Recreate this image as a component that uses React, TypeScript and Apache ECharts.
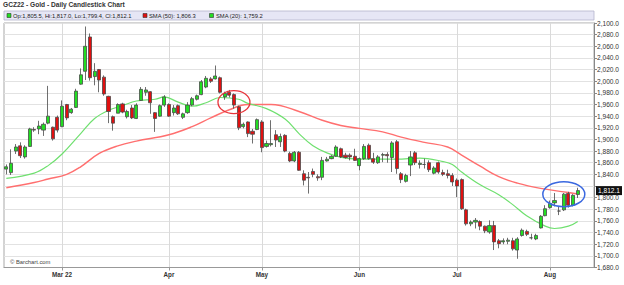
import React, { useEffect, useRef } from 'react';
import * as echarts from 'echarts';

const chartTitle = 'GCZ22 - Gold - Daily Candlestick Chart';
const monthLabels = ['', 'Mar 22', 'Apr', 'May', 'Jun', 'Jul', 'Aug'];
const tradingDaysShown = [12, 23, 20, 21, 21, 20, 7];
const emptySlotsAfter = 3;

const opens = [
  1849, 1843, 1880, 1889, 1870, 1888, 1917, 1918, 1916, 1928, 1921, 1938, 1922, 1960, 1946, 1955, 1995, 2017, 2076, 2008,
  2020, 2007, 1974, 1939, 1945, 1961, 1939, 1954, 1936, 1967, 1981, 1982, 1946, 1940, 1959, 1960, 1946, 1958, 1938, 1946,
  1959, 1969, 1977, 1990, 2004, 2004, 2006, 1973, 1981, 1977, 1956, 1922, 1930, 1914, 1917, 1930, 1888, 1891, 1908, 1896,
  1907, 1876, 1863, 1878, 1841, 1835, 1845, 1836, 1835, 1863, 1867, 1871, 1884, 1873, 1873, 1871, 1855, 1867, 1890, 1867,
  1860, 1873, 1874, 1869, 1896, 1841, 1828, 1856, 1877, 1857, 1857, 1860, 1842, 1860, 1843, 1841, 1838, 1830, 1831, 1779,
  1755, 1758, 1759, 1751, 1741, 1752, 1726, 1724, 1725, 1726, 1710, 1735, 1742, 1731, 1729, 1748, 1769, 1783, 1791, 1777,
  1779, 1807, 1787, 1805.5,
];
const closes = [
  1853, 1859, 1887, 1872, 1887, 1918, 1916, 1923, 1926, 1940, 1901, 1916, 1957, 1937, 1952, 1983, 2011, 2060, 2006, 2017,
  2002, 1978, 1948, 1928, 1960, 1947, 1948, 1937, 1959, 1986, 1985, 1963, 1936, 1958, 1973, 1940, 1954, 1944, 1944, 1959,
  1970, 1975, 1999, 2005, 2000, 2009, 1981, 1979, 1976, 1959, 1920, 1926, 1910, 1909, 1934, 1886, 1893, 1893, 1899, 1905,
  1880, 1863, 1878, 1847, 1830, 1834, 1840, 1834, 1864, 1866, 1871, 1887, 1870, 1869, 1870, 1864, 1867, 1888, 1867, 1861,
  1870, 1874, 1872, 1894, 1850, 1831, 1838, 1870, 1860, 1859, 1857, 1848, 1851, 1844, 1840, 1838, 1827, 1820, 1781, 1755,
  1758, 1761, 1751, 1743, 1752, 1724, 1721, 1726, 1727, 1712, 1729, 1744, 1737, 1731, 1735, 1768, 1781, 1790, 1795, 1777,
  1806, 1787, 1804, 1812.1,
];
const lows = [
  1840, 1839, 1875, 1868, 1867, 1887, 1913, 1909, 1906, 1926, 1898, 1912, 1921, 1933, 1944, 1954, 1994, 2002, 2001, 1993,
  1981, 1975, 1928, 1915, 1945, 1945, 1936, 1935, 1935, 1966, 1975, 1944, 1913, 1939, 1956, 1939, 1941, 1942, 1935, 1944,
  1957, 1967, 1976, 1988, 1997, 2003, 1979, 1968, 1972, 1953, 1916, 1919, 1904, 1893, 1916, 1878, 1886, 1888, 1887, 1887,
  1878, 1861, 1861, 1846, 1821, 1807, 1835, 1829, 1830, 1862, 1866, 1870, 1868, 1867, 1864, 1863, 1847, 1865, 1865, 1858,
  1858, 1861, 1860, 1844, 1841, 1825, 1826, 1837, 1856, 1850, 1850, 1844, 1840, 1841, 1837, 1833, 1820, 1801, 1779, 1752,
  1751, 1747, 1744, 1739, 1738, 1710, 1713, 1720, 1720, 1709, 1695, 1733, 1734, 1728, 1727, 1747, 1768, 1781, 1785, 1770,
  1777, 1783, 1785, 1799.4,
];
const highs = [
  1857, 1883, 1892, 1895, 1890, 1920, 1921, 1932, 1929, 1992, 1922, 1941, 1967, 1961, 1954, 1987, 2022, 2094, 2082, 2031,
  2021, 2010, 1975, 1941, 1962, 1963, 1951, 1959, 1962, 1990, 1990, 1983, 1947, 1960, 1976, 1962, 1959, 1960, 1946, 1964,
  1973, 1977, 2002, 2009, 2007, 2027, 2008, 1982, 1985, 1979, 1958, 1929, 1931, 1918, 1936, 1933, 1898, 1933, 1916, 1910,
  1909, 1879, 1880, 1880, 1847, 1844, 1850, 1840, 1870, 1870, 1873, 1890, 1886, 1877, 1876, 1884, 1869, 1892, 1893, 1877,
  1873, 1877, 1878, 1897, 1899, 1844, 1841, 1880, 1880, 1864, 1867, 1864, 1854, 1862, 1848, 1848, 1842, 1833, 1833, 1781,
  1761, 1765, 1761, 1752, 1761, 1760, 1729, 1730, 1731, 1731, 1732, 1747, 1745, 1738, 1738, 1770, 1787, 1795, 1808, 1784,
  1808, 1810, 1806, 1817,
];

const sma50At = [0, 6, 9, 13, 16, 20, 24, 28, 35, 40, 44, 48, 52, 57, 63, 68, 72, 76, 81, 85, 90, 95, 98, 102, 106, 110, 115, 120, 123];
const sma50 = [1817, 1826, 1832, 1840, 1853, 1876, 1889, 1897, 1908, 1922, 1937, 1951, 1960, 1960, 1948, 1933, 1924, 1919, 1913, 1904, 1895, 1887, 1873, 1854, 1836, 1825, 1816, 1810, 1806.3];

const sma20At = [0, 6, 9, 12, 16, 19, 22, 25, 28, 32, 34, 37, 40, 43, 46, 50, 52, 56, 60, 63, 66, 69, 73, 78, 84, 89, 94, 96, 98, 102, 106, 109, 112, 116, 118, 121, 123];
const sma20 = [1833, 1842, 1855, 1875, 1910, 1936, 1950, 1958, 1966, 1969, 1973, 1964, 1957, 1963, 1972, 1969, 1962, 1953, 1935, 1910, 1889, 1877, 1868, 1866, 1866, 1868, 1862, 1857, 1844, 1822, 1805, 1788, 1769, 1751, 1747, 1751, 1759.2];

const yMin = 1680;
const yMax = 2100;
const yStep = 20;
const lastOHLC = { op: 1805.5, hi: 1817.0, lo: 1799.4, cl: 1812.1 };
const sma50Last = 1806.3;
const sma20Last = 1759.2;
const redCircleAt = [49.4, 1964];
const blueCircleAt = [120.4, 1806];

const fmt = (v: number) =>
  v.toLocaleString('en-US', { minimumFractionDigits: 1, maximumFractionDigits: 1 });

const FONT = '"Liberation Sans", Arial, sans-serif';
const UP = '#22dd22';
const DOWN = '#e01010';

export default function App() {
  const ref = useRef<HTMLDivElement>(null);

  useEffect(() => {
    if (!ref.current) return;
    const chart = echarts.init(ref.current, undefined, { renderer: 'svg' });

    const categories: string[] = [];
    const labels: string[] = [];
    const monthStarts = new Set<number>();
    tradingDaysShown.forEach((n, m) => {
      for (let d = 0; d < n; d++) {
        if (d === 0 && monthLabels[m]) monthStarts.add(categories.length);
        labels.push(d === 0 ? monthLabels[m] : '');
        categories.push('c' + categories.length);
      }
    });
    for (let k = 0; k < emptySlotsAfter; k++) {
      labels.push('');
      categories.push('c' + categories.length);
    }
    const isMonth = (i: number) => monthStarts.has(i);

    const candles = opens.map((o, i) => [o, closes[i], lows[i], highs[i]]);
    const sma50Data = sma50At.map((x, k) => [x, sma50[k]]);
    const sma20Data = sma20At.map((x, k) => [x, sma20[k]]);

    const header: any[] = [
      {
        id: 'title', type: 'text', left: 3, top: 1,
        style: { text: chartTitle, font: `bold 6.6px ${FONT}`, fill: '#333' },
      },
      {
        id: 'bar', type: 'rect', shape: { x: 4, y: 11, width: 590, height: 9 },
        style: { fill: '#e6e6f5', stroke: '#b4b4cc', lineWidth: 0.8 },
      },
      { id: 'sq1', type: 'rect', shape: { x: 7, y: 13.5, width: 4, height: 4 }, style: { fill: UP, stroke: '#333', lineWidth: 0.6 } },
      {
        id: 't1', type: 'text', x: 13, y: 15.7,
        style: {
          text: `Op:${fmt(lastOHLC.op)}, Hi:${fmt(lastOHLC.hi)}, Lo:${fmt(lastOHLC.lo)}, Cl:${fmt(lastOHLC.cl)}`,
          font: `5.8px ${FONT}`, fill: '#222', verticalAlign: 'middle',
        },
      },
      { id: 'sq2', type: 'rect', shape: { x: 143, y: 13.5, width: 4, height: 4 }, style: { fill: DOWN, stroke: '#333', lineWidth: 0.6 } },
      {
        id: 't2', type: 'text', x: 149, y: 15.7,
        style: { text: `SMA (50): ${fmt(sma50Last)}`, font: `5.8px ${FONT}`, fill: '#222', verticalAlign: 'middle' },
      },
      { id: 'sq3', type: 'rect', shape: { x: 209.5, y: 13.5, width: 4, height: 4 }, style: { fill: UP, stroke: '#333', lineWidth: 0.6 } },
      {
        id: 't3', type: 'text', x: 216, y: 15.7,
        style: { text: `SMA (20): ${fmt(sma20Last)}`, font: `5.8px ${FONT}`, fill: '#222', verticalAlign: 'middle' },
      },
      {
        id: 'copy', type: 'text', x: 10, y: 261.5,
        style: { text: '\u00a9 Barchart.com', font: `5.8px ${FONT}`, fill: '#444', verticalAlign: 'middle' },
        z: 10,
      },
    ];

    chart.setOption({
      animation: false,
      grid: {
        left: 4, right: 30, top: 23, bottom: 17.5,
        show: true, borderColor: '#a8a8a8', borderWidth: 1, backgroundColor: '#fff',
      },
      xAxis: {
        type: 'category',
        data: categories,
        boundaryGap: true,
        axisLine: { show: true, lineStyle: { color: '#999' } },
        axisTick: { show: true, alignWithLabel: true, interval: (i: number) => isMonth(i), length: 3, lineStyle: { color: '#999' } },
        axisLabel: {
          interval: (i: number) => isMonth(i),
          formatter: (_v: string, i: number) => labels[i],
          fontSize: 6.3, fontWeight: 'bold', color: '#333', margin: 4, fontFamily: FONT,
        },
        splitLine: {
          show: true, alignWithLabel: true, interval: (i: number) => isMonth(i),
          lineStyle: { color: '#dadada', width: 1 },
        },
      },
      yAxis: {
        type: 'value',
        position: 'right',
        min: yMin, max: yMax, interval: yStep,
        axisLine: { show: true, lineStyle: { color: '#888' } },
        axisTick: { show: true, length: 3, lineStyle: { color: '#888' } },
        axisLabel: {
          fontSize: 6.6, color: '#333', margin: 3, fontFamily: FONT,
          formatter: (v: number) => (v === 1820 ? '' : fmt(v)),
        },
        splitLine: { show: true, lineStyle: { color: '#e2e2e2' } },
      },
      graphic: { elements: header },
      series: [
        {
          name: 'SMA (50)', type: 'line', data: sma50Data, smooth: 0.4, symbol: 'none', z: 3,
          lineStyle: { color: '#ff6f6f', width: 1.4 },
        },
        {
          name: 'SMA (20)', type: 'line', data: sma20Data, smooth: 0.4, symbol: 'none', z: 3,
          lineStyle: { color: '#6fe06f', width: 1.2 },
        },
        {
          name: 'GCZ22', type: 'candlestick', data: candles, barWidth: 3.6, z: 4,
          itemStyle: { color: UP, color0: DOWN, borderColor: '#4a4a4a', borderColor0: '#4a4a4a', borderWidth: 0.8 },
          markLine: {
            silent: true, symbol: 'none', animation: false, z: 30,
            lineStyle: { color: 'rgba(0,0,0,0)', width: 0 },
            data: [{ yAxis: lastOHLC.cl }],
            label: {
              show: true, position: 'end', distance: 2,
              formatter: () => fmt(lastOHLC.cl),
              backgroundColor: '#111', color: '#fff', fontSize: 6.6, fontFamily: FONT,
              padding: [1, 2, 1, 2], opacity: 1,
            },
          },
        },
      ],
    });

    const red = chart.convertToPixel({ gridIndex: 0 }, redCircleAt) as number[];
    const blue = chart.convertToPixel({ gridIndex: 0 }, blueCircleAt) as number[];
    chart.setOption({
      graphic: {
        elements: [
          ...header,
          {
            id: 'redCircle', type: 'ellipse', z: 20,
            shape: { cx: red[0], cy: red[1], rx: 16, ry: 11.5 },
            style: { fill: 'none', stroke: '#e8343a', lineWidth: 1.3 },
          },
          {
            id: 'blueCircle', type: 'ellipse', z: 20,
            shape: { cx: blue[0], cy: blue[1], rx: 21, ry: 12.5 },
            style: { fill: 'none', stroke: '#3a68e0', lineWidth: 1.5 },
          },
        ],
      },
    });

    return () => chart.dispose();
  }, []);

  return <div ref={ref} style={{ width: 624, height: 285, position: 'absolute', left: 0, top: 0 }} />;
}
